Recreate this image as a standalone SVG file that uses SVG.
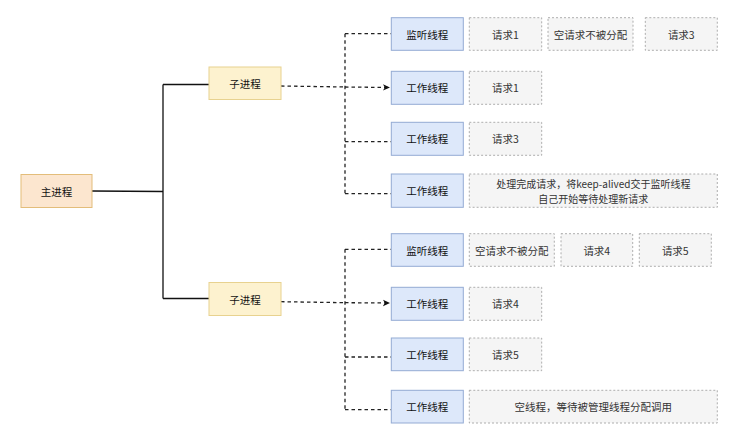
<svg xmlns="http://www.w3.org/2000/svg" width="740" height="430" viewBox="0 0 740 430">
<style>
text{font-family:"Noto Sans CJK SC","Liberation Sans",sans-serif;font-size:10.5px;text-anchor:middle;dominant-baseline:central;fill:#111}
.main{fill:#fce6cf;stroke:#e3bd7a;stroke-width:1}
.child{fill:#fdf2cf;stroke:#e8d28f;stroke-width:1}
.thr{fill:#dde8fa;stroke:#94abd4;stroke-width:1}
.req{fill:#f5f5f5;stroke:#9a9a9a;stroke-width:0.8;stroke-dasharray:2 2}
.rt{fill:#333}
.sm{font-size:10px}
.solid{fill:none;stroke:#111;stroke-width:1.3}
.dash{fill:none;stroke:#222;stroke-width:1.3;stroke-dasharray:3.5 3}
</style>
<defs>
<marker id="arr" markerWidth="8" markerHeight="8" refX="7" refY="4" orient="auto" markerUnits="userSpaceOnUse">
<path d="M0,0.8 L7,4 L0,7.2 L1.8,4 Z" fill="#111"/>
</marker>
</defs>
<rect width="740" height="430" fill="#fff"/>
<g id="connectors">
<path class="solid" d="M92,191 L163,191.5 M163,84.5 L163,298.5 M163,84.5 L209,84.5 M163,298.5 L209,298.5"/>
<path class="dash" d="M281,86 L345,87"/>
<path class="dash" d="M345,33.7 L345,193.7"/>
<path class="dash" d="M345,33.7 L391,33.7"/>
<path class="dash" d="M345,87 L390,87.5" marker-end="url(#arr)"/>
<path class="dash" d="M345,141.7 L391,141.7"/>
<path class="dash" d="M345,193.7 L391,193.7"/>
<path class="dash" d="M281,301.7 L345,302.7"/>
<path class="dash" d="M345,249.3 L345,409.7"/>
<path class="dash" d="M345,249.3 L391,249.3"/>
<path class="dash" d="M345,302.7 L390,303" marker-end="url(#arr)"/>
<path class="dash" d="M345,357 L391,357"/>
<path class="dash" d="M345,409.7 L391,409.7"/>
</g>
<g id="main"><rect class="main" x="21" y="174.5" width="71" height="33"/><text x="56.5" y="191">主进程</text></g>
<g id="child1"><rect class="child" x="209" y="67" width="72" height="32.5"/><text x="245" y="83.3">子进程</text></g>
<g id="child2"><rect class="child" x="209" y="282.5" width="72" height="33"/><text x="245" y="299">子进程</text></g>

<g id="listen1"><rect class="thr" x="391.3" y="17.7" width="72" height="32.6"/><text x="427.3" y="34">监听线程</text></g>
<g id="worker1a"><rect class="thr" x="391.3" y="71.3" width="72" height="33"/><text x="427.3" y="87.8">工作线程</text></g>
<g id="worker1b"><rect class="thr" x="391.3" y="122.3" width="72" height="33"/><text x="427.3" y="138.8">工作线程</text></g>
<g id="worker1c"><rect class="thr" x="391.3" y="174" width="72" height="33.3"/><text x="427.3" y="190.6">工作线程</text></g>

<g id="listen2"><rect class="thr" x="391.3" y="233.7" width="72" height="32.6"/><text x="427.3" y="250">监听线程</text></g>
<g id="worker2a"><rect class="thr" x="391.3" y="287.3" width="72" height="33"/><text x="427.3" y="303.8">工作线程</text></g>
<g id="worker2b"><rect class="thr" x="391.3" y="338" width="72" height="32.7"/><text x="427.3" y="354.3">工作线程</text></g>
<g id="worker2c"><rect class="thr" x="391.3" y="390.3" width="72" height="32.7"/><text x="427.3" y="406.6">工作线程</text></g>

<g id="r1a"><rect class="req" x="469.3" y="17.7" width="72.4" height="32.6"/><text class="rt" x="505.5" y="34">请求1</text></g>
<g id="r1b"><rect class="req" x="548" y="17.7" width="85" height="32.6"/><text class="rt" x="590.5" y="34">空请求不被分配</text></g>
<g id="r1c"><rect class="req" x="645.3" y="17.7" width="72" height="32.6"/><text class="rt" x="681.3" y="34">请求3</text></g>
<g id="r1d"><rect class="req" x="469.3" y="71.3" width="72.4" height="33"/><text class="rt" x="505.5" y="87.8">请求1</text></g>
<g id="r1e"><rect class="req" x="469.3" y="122.3" width="72.4" height="33"/><text class="rt" x="505.5" y="138.8">请求3</text></g>
<g id="r1f"><rect class="req" x="469.3" y="174" width="248" height="33.3"/><text class="rt sm" x="593.3" y="183.2">处理完成请求，将keep-alived交于监听线程</text><text class="rt sm" x="593.3" y="198">自己开始等待处理新请求</text></g>

<g id="r2a"><rect class="req" x="469.3" y="233.7" width="85" height="32.6"/><text class="rt" x="511.8" y="250">空请求不被分配</text></g>
<g id="r2b"><rect class="req" x="561" y="233.7" width="71.7" height="32.6"/><text class="rt" x="596.8" y="250">请求4</text></g>
<g id="r2c"><rect class="req" x="639.3" y="233.7" width="72" height="32.6"/><text class="rt" x="675.3" y="250">请求5</text></g>
<g id="r2d"><rect class="req" x="469.3" y="287.3" width="72.4" height="33"/><text class="rt" x="505.5" y="303.8">请求4</text></g>
<g id="r2e"><rect class="req" x="469.3" y="338" width="72.4" height="32.7"/><text class="rt" x="505.5" y="354.3">请求5</text></g>
<g id="r2f"><rect class="req" x="469.3" y="390.3" width="248" height="32.7"/><text class="rt" x="593.3" y="406.6">空线程，等待被管理线程分配调用</text></g>
</svg>
